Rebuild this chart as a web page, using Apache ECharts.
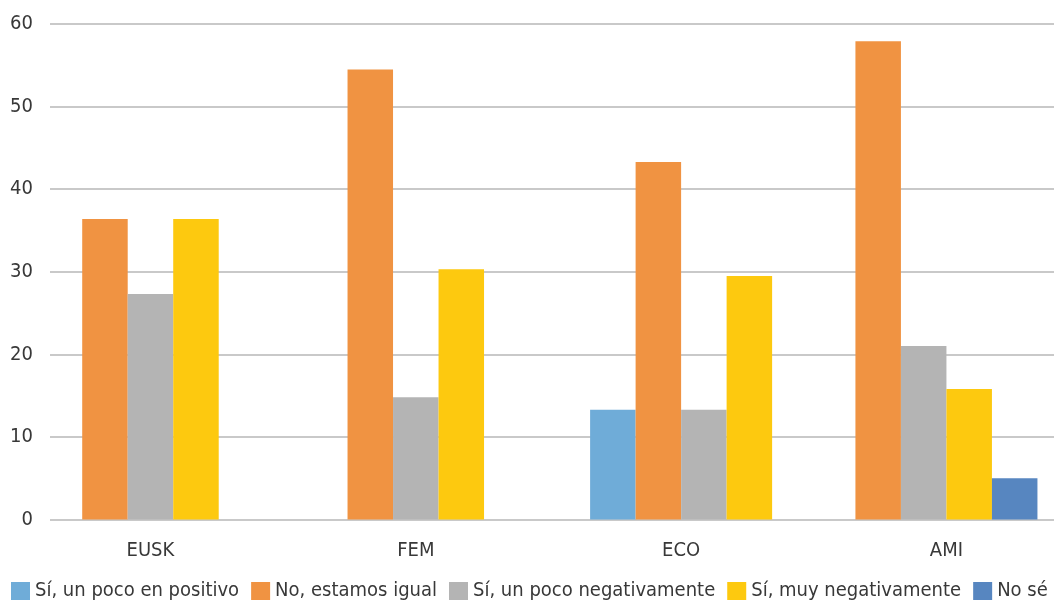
<!DOCTYPE html>
<html>
<head>
<meta charset="utf-8">
<script src="https://cdn.jsdelivr.net/npm/echarts@6/dist/echarts.min.js"></script>
<style>
html,body{margin:0;padding:0;background:#fff;}
#chart{width:1061px;height:603px;}
</style>
</head>
<body>
<div id="chart"></div>
<script>
var categories = ['EUSK', 'FEM', 'ECO', 'AMI'];
var seriesNames = ['Sí, un poco en positivo', 'No, estamos igual', 'Sí, un poco negativamente', 'Sí, muy negativamente', 'No sé'];
var siPocoPositivo = [null, null, 13.3, null];
var noIgual = [36.4, 54.5, 43.3, 57.9];
var siPocoNegativo = [27.3, 14.8, 13.3, 21.0];
var siMuyNegativo = [36.4, 30.3, 29.5, 15.8];
var noSe = [null, null, null, 5.0];
var yTicks = [0, 10, 20, 30, 40, 50, 60];

var allSeries = [siPocoPositivo, noIgual, siPocoNegativo, siMuyNegativo, noSe];
var colors = ['#6FACD8', '#F09342', '#B4B4B4', '#FDC90F', '#5786C0'];
var FONT = '"Liberation Sans Narrow", "DejaVu Sans Condensed", "Roboto", sans-serif';
var TEXT = '#383838';

function makeRender(sIdx) {
  return function (params, api) {
    var ci = api.value(0);
    var present = [];
    for (var s = 0; s < allSeries.length; s++) {
      if (allSeries[s][ci] != null) present.push(s);
    }
    var n = present.length;
    var k = present.indexOf(sIdx);
    var catW = api.size([1, 0])[0];
    var bw = catW * 0.1715;
    var base = api.coord([ci, 0]);
    var top = api.coord([ci, api.value(1)]);
    var cx = base[0] + (k - (n - 1) / 2) * bw;
    return {
      type: 'rect',
      shape: { x: cx - bw / 2, y: top[1], width: bw, height: base[1] - top[1] },
      style: { fill: colors[sIdx] }
    };
  };
}

var series = seriesNames.map(function (name, s) {
  var data = [];
  allSeries[s].forEach(function (v, i) { if (v != null) data.push([i, v]); });
  return {
    name: name,
    type: 'custom',
    xAxisIndex: 0,
    yAxisIndex: 0,
    itemStyle: { color: colors[s] },
    encode: { x: 0, y: 1 },
    renderItem: makeRender(s),
    data: data,
    clip: false,
    z: 5
  };
});

var chart = echarts.init(document.getElementById('chart'), null, { renderer: 'canvas' });
chart.setOption({
  animation: false,
  backgroundColor: '#ffffff',
  grid: [
    { left: 17.8, width: 1061.3, top: 24, bottom: 83.5, outerBoundsMode: 'none', containLabel: false },
    { left: 50, right: 7, top: 24, bottom: 83.5, outerBoundsMode: 'none', containLabel: false }
  ],
  xAxis: [
    {
      type: 'category', gridIndex: 0, data: categories,
      axisLine: { show: false }, axisTick: { show: false }, splitLine: { show: false },
      axisLabel: { color: TEXT, fontFamily: FONT, fontSize: 20, margin: 21 }
    },
    { type: 'value', gridIndex: 1, show: false }
  ],
  yAxis: [
    { type: 'value', gridIndex: 0, min: 0, max: 60, show: false, splitLine: { show: false } },
    {
      type: 'value', gridIndex: 1, min: 0, max: 60, interval: 10,
      axisLine: { show: false }, axisTick: { show: false },
      axisLabel: { color: TEXT, fontFamily: FONT, fontSize: 20, margin: 17,
        formatter: function (v) { return yTicks.indexOf(v) >= 0 ? String(v) : ''; } },
      splitLine: { show: true, lineStyle: { color: '#C9C9C9', width: 2 } }
    }
  ],
  legend: {
    data: seriesNames,
    left: 11, right: 0, top: 581, padding: 0,
    icon: 'rect', itemWidth: 19, itemHeight: 18, itemGap: 12,
    textStyle: { color: TEXT, fontFamily: FONT, fontSize: 20 }
  },
  series: series
});
</script>
</body>
</html>
